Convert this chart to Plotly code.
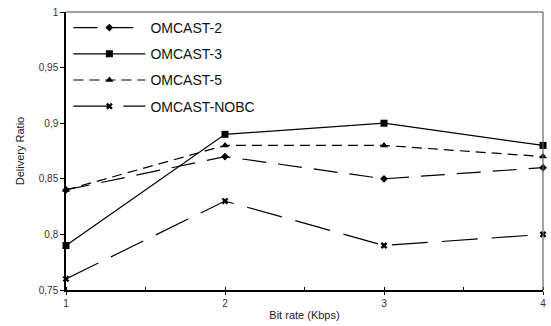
import plotly.graph_objects as go

bit_rate = [1, 2, 3, 4]
omcast2 = [0.84, 0.87, 0.85, 0.86]
omcast3 = [0.79, 0.89, 0.90, 0.88]
omcast5 = [0.84, 0.88, 0.88, 0.87]
omcast_nobc = [0.76, 0.83, 0.79, 0.80]

y_ticks = [0.75, 0.8, 0.85, 0.9, 0.95, 1.0]
y_ticktext = ["0,75", "0,8", "0,85", "0,9", "0,95", "1"]
x_ticks = [1, 2, 3, 4]

series = [
    ("OMCAST-2", omcast2, "24px,12px", "diamond", 6),
    ("OMCAST-3", omcast3, "solid", "square", 7),
    ("OMCAST-5", omcast5, "10px,6px", "triangle-up", 7),
    ("OMCAST-NOBC", omcast_nobc, "36px,14px", "x", 6),
]

fig = go.Figure()
for i, (name, vals, dash, sym, size) in enumerate(series):
    fig.add_trace(go.Scatter(
        x=bit_rate, y=vals, name=name, mode="lines+markers",
        line=dict(color="black", width=1.2, dash=dash),
        marker=dict(symbol=sym, size=size, color="black"),
        cliponaxis=False, legendgroup=f"g{i}",
    ))

font = "Liberation Sans, Arial, sans-serif"
fig.update_layout(
    width=551, height=326,
    margin=dict(l=66, r=5, t=12, b=36),
    paper_bgcolor="white", plot_bgcolor="white",
    font=dict(family=font, color="#222"),
    showlegend=True,
    legend=dict(x=0.005, y=1.0, xanchor="left", yanchor="top",
                bgcolor="rgba(0,0,0,0)", font=dict(size=14, color="#111"),
                tracegroupgap=5, itemwidth=72),
    xaxis=dict(range=[1, 4], tickvals=x_ticks, showgrid=False, zeroline=False,
               showline=True, linecolor="black", linewidth=2,
               ticks="outside", ticklen=3, tickcolor="black",
               minor=dict(ticks="inside", dtick=0.5, ticklen=3, tickcolor="black"),
               tickfont=dict(size=10, color="#333"),
               title=dict(text="Bit rate (Kbps)", font=dict(size=11, color="#222"), standoff=3)),
    yaxis=dict(range=[0.75, 1.0], tickvals=y_ticks, ticktext=y_ticktext,
               showgrid=False, zeroline=False,
               showline=True, linecolor="black", linewidth=1.5,
               ticks="outside", ticklen=4, tickcolor="black",
               tickfont=dict(size=10, color="#333"),
               title=dict(text="Delivery Ratio", font=dict(size=11, color="#222"), standoff=12)),
)
fig.add_shape(type="line", xref="paper", yref="paper", x0=0, x1=1, y0=1, y1=1,
              line=dict(color="#444", width=1.2))
fig.add_shape(type="line", xref="paper", yref="paper", x0=1, x1=1, y0=0, y1=1,
              line=dict(color="#666", width=1.2))

fig.write_html("out.html")
